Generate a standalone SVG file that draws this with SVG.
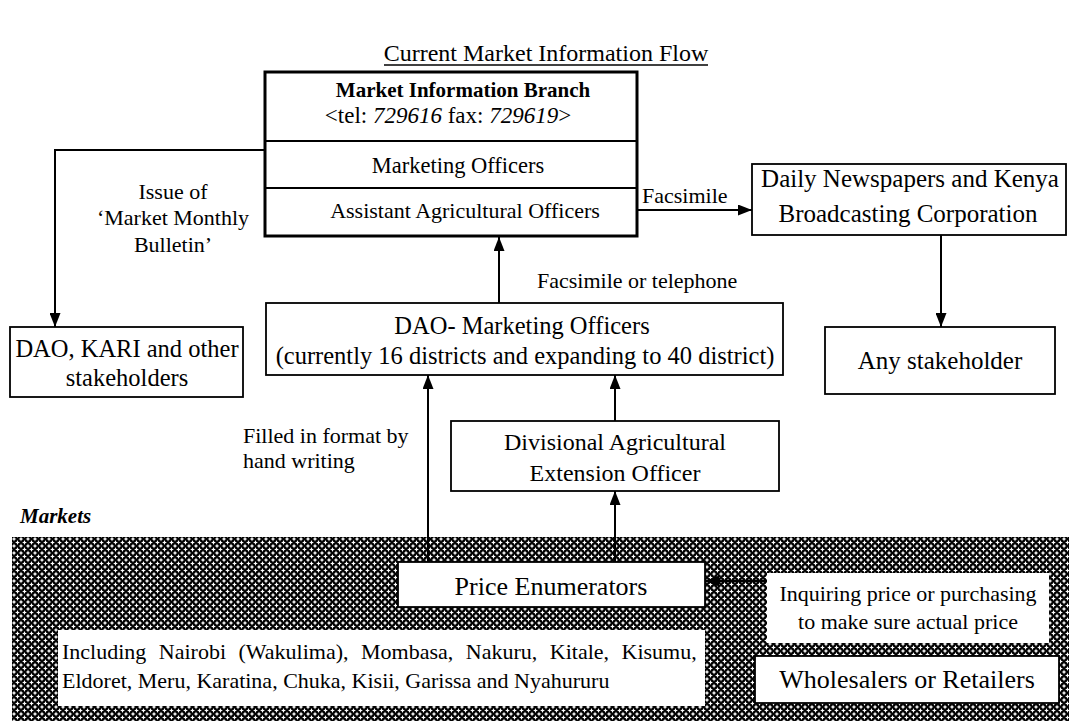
<svg xmlns="http://www.w3.org/2000/svg" width="1069" height="721" viewBox="0 0 1069 721">
<style>
.t{font-family:"Liberation Serif","Times New Roman",serif;fill:#000}
.box{fill:#fff;stroke:#000;stroke-width:1.8}
.ln{fill:none;stroke:#000;stroke-width:2}
</style>
<defs>
<pattern id="hatch" patternUnits="userSpaceOnUse" width="7" height="7">
<rect width="7" height="7" fill="#000"/>
<g fill="#fff">
<path d="M1.1,3.5 L2.8,2.8 L3.5,1.1 L4.2,2.8 L5.9,3.5 L4.2,4.2 L3.5,5.9 L2.8,4.2 Z"/>
<path d="M-2.4,0 L-0.7,-0.7 L0,-2.4 L0.7,-0.7 L2.4,0 L0.7,0.7 L0,2.4 L-0.7,0.7 Z"/>
<path d="M4.6,0 L6.3,-0.7 L7,-2.4 L7.7,-0.7 L9.4,0 L7.7,0.7 L7,2.4 L6.3,0.7 Z"/>
<path d="M-2.4,7 L-0.7,6.3 L0,4.6 L0.7,6.3 L2.4,7 L0.7,7.7 L0,9.4 L-0.7,7.7 Z"/>
<path d="M4.6,7 L6.3,6.3 L7,4.6 L7.7,6.3 L9.4,7 L7.7,7.7 L7,9.4 L6.3,7.7 Z"/>
</g>
</pattern>
<marker id="ah" markerUnits="userSpaceOnUse" markerWidth="14" markerHeight="11" refX="14" refY="5.5" orient="auto">
<path d="M0,0 L14,5.5 L0,11 Z" fill="#000"/>
</marker>
</defs>
<rect width="1069" height="721" fill="#fff"/>

<g id="title">
<text class="t" x="546" y="61" font-size="24" text-anchor="middle">Current Market Information Flow</text>
<line x1="384" y1="65" x2="708" y2="65" stroke="#000" stroke-width="1.5"/>
</g>

<g id="markets-area">
<rect x="12" y="537" width="1057" height="184" fill="url(#hatch)"/>
<text class="t" x="20" y="523" font-size="21" font-weight="bold" font-style="italic">Markets</text>
</g>

<g id="connectors">
<polyline class="ln" points="265,150 55,150 55,327" marker-end="url(#ah)"/>
<line class="ln" x1="637" y1="210" x2="752" y2="210" marker-end="url(#ah)"/>
<line class="ln" x1="941" y1="235" x2="941" y2="327" marker-end="url(#ah)"/>
<line class="ln" x1="499" y1="303" x2="499" y2="237" marker-end="url(#ah)"/>
<line class="ln" x1="428" y1="562" x2="428" y2="375" marker-end="url(#ah)"/>
<line class="ln" x1="615" y1="421" x2="615" y2="375" marker-end="url(#ah)"/>
<line class="ln" x1="615" y1="562" x2="615" y2="491" marker-end="url(#ah)"/>
<line class="ln" x1="767" y1="581" x2="705" y2="581" stroke-width="4" marker-end="url(#ah)"/>
</g>

<g id="labels">
<text class="t" font-size="22" text-anchor="middle"><tspan x="173" y="199">Issue of</tspan><tspan x="173" y="225">‘Market Monthly</tspan><tspan x="173" y="252">Bulletin’</tspan></text>
<text class="t" x="642" y="203" font-size="22">Facsimile</text>
<text class="t" x="537" y="288" font-size="22">Facsimile or telephone</text>
<text class="t" font-size="22"><tspan x="243" y="443">Filled in format by</tspan><tspan x="243" y="468">hand writing</tspan></text>
</g>

<g id="market-information-branch">
<rect x="265" y="72" width="372" height="164" fill="#fff" stroke="#000" stroke-width="3"/>
<line x1="265" y1="141" x2="637" y2="141" stroke="#000" stroke-width="2"/>
<line x1="265" y1="188" x2="637" y2="188" stroke="#000" stroke-width="2"/>
<text class="t" x="463" y="97" font-size="21" font-weight="bold" text-anchor="middle">Market Information Branch</text>
<text class="t" x="448" y="123" font-size="23" text-anchor="middle">&lt;tel: <tspan font-style="italic">729616</tspan> fax: <tspan font-style="italic">729619</tspan>&gt;</text>
<text class="t" x="458" y="173" font-size="22.5" text-anchor="middle">Marketing Officers</text>
<text class="t" x="465" y="218" font-size="22" text-anchor="middle">Assistant Agricultural Officers</text>
</g>

<g id="dao-kari">
<rect class="box" x="10" y="327" width="233" height="70"/>
<text class="t" font-size="24.5" text-anchor="middle"><tspan x="127" y="357">DAO, KARI and other</tspan><tspan x="127" y="386">stakeholders</tspan></text>
</g>

<g id="daily-newspapers">
<rect class="box" x="752" y="164" width="314" height="71"/>
<text class="t" font-size="25" text-anchor="middle"><tspan x="910" y="187">Daily Newspapers and Kenya</tspan><tspan x="908" y="222">Broadcasting Corporation</tspan></text>
</g>

<g id="any-stakeholder">
<rect class="box" x="825" y="327" width="230" height="67"/>
<text class="t" x="940" y="369" font-size="25" text-anchor="middle">Any stakeholder</text>
</g>

<g id="dao-marketing-officers">
<rect class="box" x="266" y="303" width="517" height="72"/>
<text class="t" font-size="24.5" text-anchor="middle"><tspan x="522" y="334">DAO- Marketing Officers</tspan><tspan x="525" y="364">(currently 16 districts and expanding to 40 district)</tspan></text>
</g>

<g id="divisional-officer">
<rect class="box" x="451" y="421" width="328" height="70"/>
<text class="t" font-size="24" text-anchor="middle"><tspan x="615" y="450">Divisional Agricultural</tspan><tspan x="615" y="481">Extension Officer</tspan></text>
</g>

<g id="price-enumerators">
<rect class="box" x="398" y="562" width="307" height="45"/>
<text class="t" x="551" y="595" font-size="26" text-anchor="middle">Price Enumerators</text>
</g>

<g id="markets-list">
<rect x="58" y="630" width="647" height="76" fill="#fff" stroke="none"/>
<text class="t" font-size="22"><tspan x="62" y="659" word-spacing="7">Including Nairobi (Wakulima), Mombasa, Nakuru, Kitale, Kisumu,</tspan><tspan x="62" y="688">Eldoret, Meru, Karatina, Chuka, Kisii, Garissa and Nyahururu</tspan></text>
</g>

<g id="inquiring">
<rect x="767" y="573" width="282" height="70" fill="#fff" stroke="none"/>
<text class="t" font-size="22" text-anchor="middle"><tspan x="908" y="601">Inquiring price or purchasing</tspan><tspan x="908" y="629">to make sure actual price</tspan></text>
</g>

<g id="wholesalers">
<rect class="box" x="755" y="656" width="304" height="47"/>
<text class="t" x="907" y="688" font-size="26" text-anchor="middle">Wholesalers or Retailers</text>
</g>
</svg>
